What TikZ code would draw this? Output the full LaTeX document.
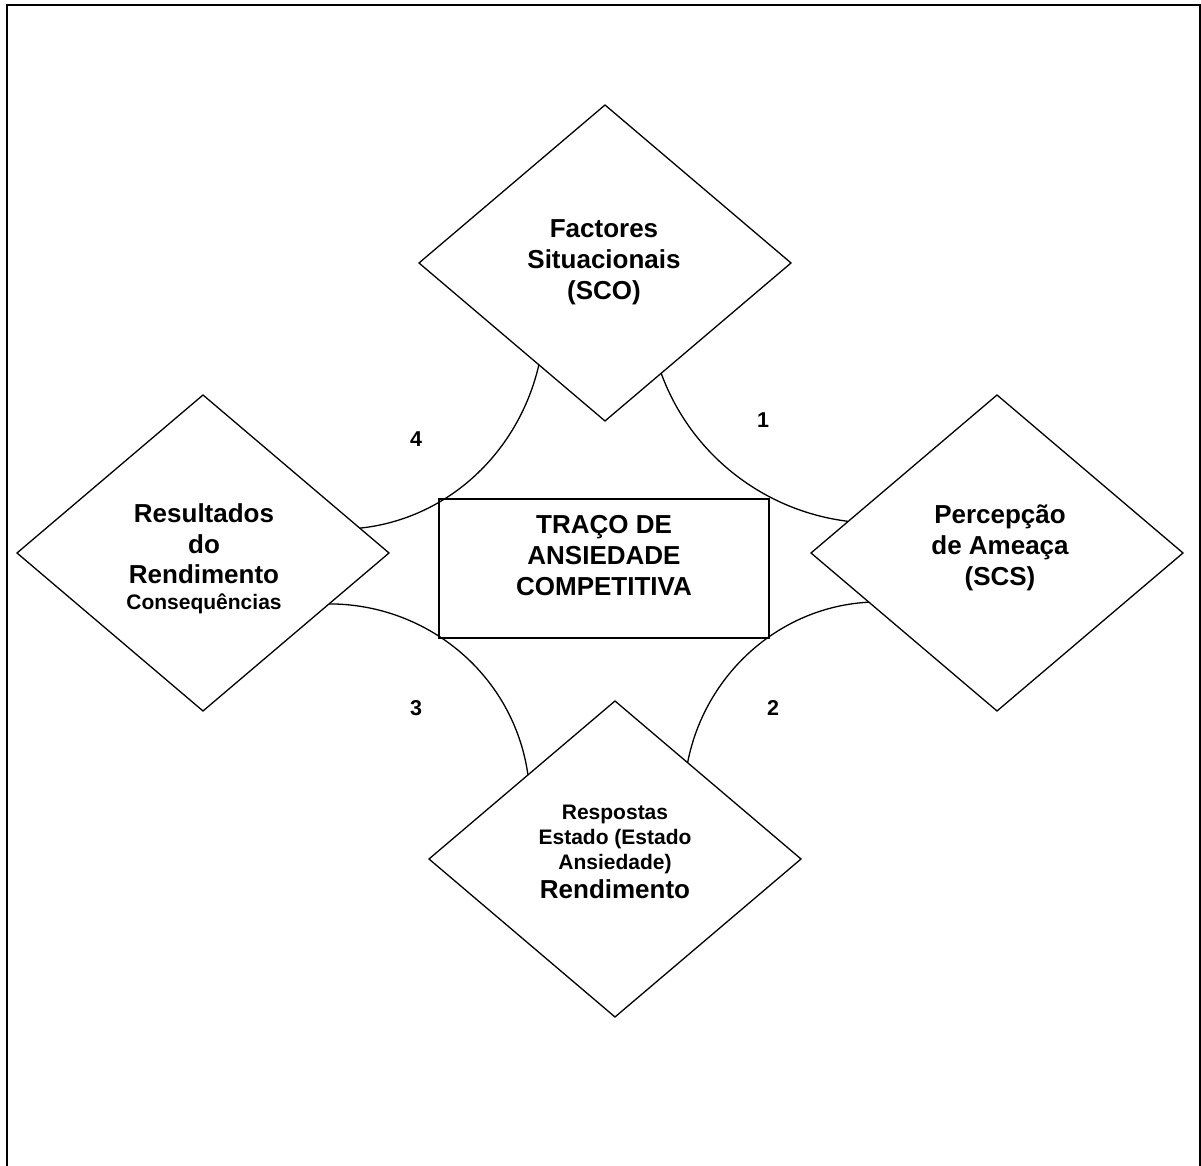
\documentclass[tikz,border=0pt]{standalone}
\usepackage{fontspec}
\setmainfont{Liberation Sans}
\usetikzlibrary{shapes.geometric}
\tikzset{
  dia/.style={draw, line width=1.3pt, diamond, minimum width=372pt, minimum height=316pt, inner sep=0pt, outer sep=0pt},
  big/.style={font=\bfseries\fontsize{26}{31}\selectfont, align=center, inner sep=0pt},
  num/.style={font=\bfseries\fontsize{21.5}{25}\selectfont, inner sep=0pt},
  link/.style={line width=1.3pt},
  frame/.style={line width=2pt}
}
\begin{document}
\begin{tikzpicture}[x=1pt,y=1pt]
\useasboundingbox (0,0) rectangle (1201,1166);
\draw[frame] (7,0) -- (7,1161.3) -- (1199.5,1161.3) -- (1199.5,0);

\node[dia] (sit) at (605,903) {};
\node[dia] (res) at (203,613) {};
\node[dia] (per) at (997,613) {};
\node[dia] (resp) at (615,307) {};
\node[draw, line width=1.5pt, minimum width=330pt, minimum height=139pt, inner sep=0pt, outer sep=0pt] (trait) at (604,597.5) {};

\node[big] (sitT) at (604,903.4) {Factores\\Situacionais\\(SCO)};
\node[big, font=\bfseries\fontsize{26}{30.5}\selectfont] (resT) at (204,606.8) {Resultados\\do\\Rendimento\\[-4.5pt]{\fontsize{21}{25}\selectfont Consequências}};
\node[big] (perT) at (1000,618.4) {Percepção\\de Ameaça\\(SCS)};
\node[big, font=\bfseries\fontsize{21}{25}\selectfont] (respT) at (615,314.5) {Respostas\\Estado (Estado\\Ansiedade)\\[4pt]{\fontsize{26}{29}\selectfont Rendimento}};
\node[big] (traitT) at (604,610.6) {TRAÇO DE\\ANSIEDADE\\COMPETITIVA};

\draw[link] (sit.-63.8) to[out=-70, in=173, looseness=0.92] (per.168.6);
\draw[link] (sit.-123.7) to[out=-103, in=6, looseness=0.94] (res.9.9);
\draw[link] (per.201.9) to[out=183, in=79, looseness=0.95] (resp.53);
\draw[link] (res.-22.3) to[out=0, in=98, looseness=0.97] (resp.136.3);

\node[num] (n4) at (416,727) {4};
\node[num] (n1) at (763,745.5) {1};
\node[num] (n3) at (416,458) {3};
\node[num] (n2) at (773,457.7) {2};
\end{tikzpicture}
\end{document}
